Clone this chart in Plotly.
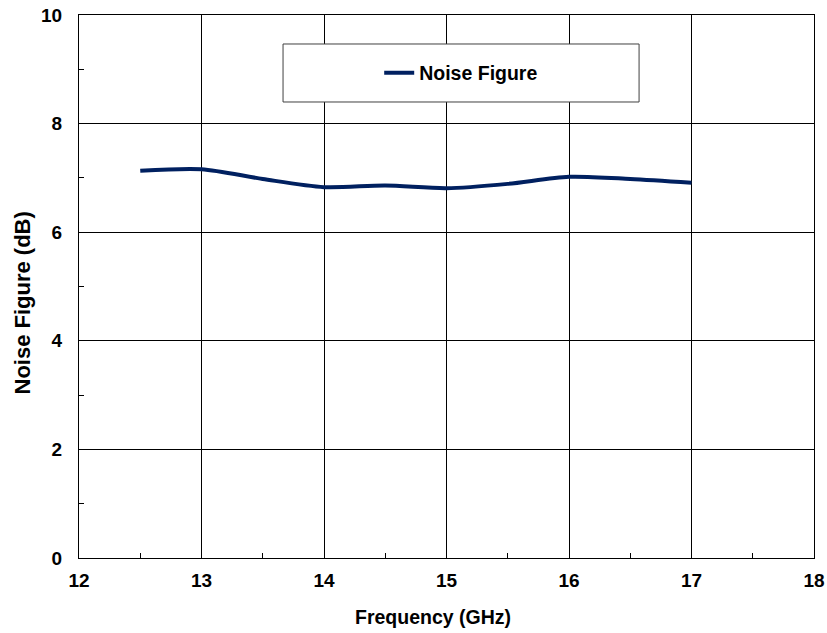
import plotly.graph_objects as go

freq_ghz = [12.5, 13.0, 13.5, 14.0, 14.5, 15.0, 15.5, 16.0, 16.5, 17.0]
noise_figure_db = [7.13, 7.16, 6.98, 6.83, 6.86, 6.81, 6.89, 7.02, 6.98, 6.91]
series_name = "Noise Figure"
x_title = "Frequency (GHz)"
y_title = "Noise Figure (dB)"

FONT = "Liberation Sans, Arial, sans-serif"

fig = go.Figure()
fig.add_trace(go.Scatter(
    x=freq_ghz, y=noise_figure_db, name=series_name, mode="lines",
    line=dict(color="rgb(0,32,96)", width=4, shape="spline", smoothing=0.8),
))

axis_common = dict(
    showline=True, linecolor="black", linewidth=1, mirror=True,
    showgrid=True, gridcolor="black", gridwidth=1,
    ticks="inside", ticklen=5, tickcolor="black", tickwidth=1,
    tickfont=dict(family=FONT, size=19, color="black", weight="bold"),
    zeroline=False, automargin=False,
)

fig.update_xaxes(range=[12, 18], dtick=1, tick0=12,
                 minor=dict(ticks="inside", ticklen=5, dtick=0.5, tickcolor="black", showgrid=False),
                 ticklabelstandoff=5, **axis_common)
fig.update_yaxes(range=[0, 10], dtick=2, tick0=0,
                 minor=dict(ticks="inside", ticklen=5, dtick=1, tickcolor="black", showgrid=False),
                 ticklabelstandoff=12, **axis_common)

# legend box
fig.add_shape(type="rect", xref="paper", yref="paper",
              x0=0.2776, x1=0.762, y0=0.8398, y1=0.9466,
              line=dict(color="#404040", width=1), fillcolor="white", layer="above")

fig.update_layout(
    template="none",
    width=827, height=633,
    margin=dict(l=79, r=13, t=15, b=75, autoexpand=False),
    paper_bgcolor="white", plot_bgcolor="white",
    showlegend=True,
    legend=dict(x=0.52, y=0.893, xanchor="center", yanchor="middle",
                bgcolor="rgba(0,0,0,0)", borderwidth=0,
                font=dict(family=FONT, size=19.5, color="black", weight="bold"),
                itemwidth=30),
    annotations=[
        dict(text=x_title, xref="paper", yref="paper", x=(432.5 - 79) / 735, y=-(617 - 558) / 543,
             xanchor="center", yanchor="middle", showarrow=False,
             font=dict(family=FONT, size=19.5, color="black", weight="bold")),
        dict(text=y_title, xref="paper", yref="paper", x=-(79 - 22) / 735, y=(558 - 303.5) / 543,
             xanchor="center", yanchor="middle", showarrow=False, textangle=-90,
             font=dict(family=FONT, size=22, color="black", weight="bold")),
    ],
)

fig.write_html("out.html")
